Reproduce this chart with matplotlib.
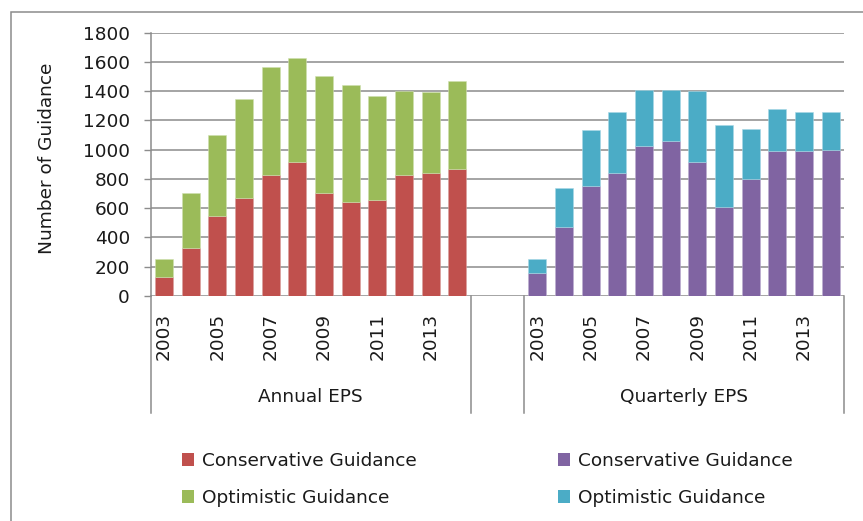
import matplotlib
matplotlib.use("Agg")
import matplotlib.pyplot as plt
import matplotlib.transforms as mtransforms
from matplotlib.patches import Patch, Rectangle
import numpy as np

years = [2003, 2004, 2005, 2006, 2007, 2008, 2009, 2010, 2011, 2012, 2013, 2014]
annual_conservative = [130, 326, 547, 670, 829, 916, 706, 645, 658, 829, 841, 866]
annual_total = [250, 706, 1098, 1344, 1563, 1624, 1503, 1442, 1369, 1403, 1396, 1467]
quarterly_conservative = [155, 473, 755, 839, 1023, 1061, 914, 607, 802, 989, 989, 1000]
quarterly_total = [250, 739, 1132, 1255, 1411, 1411, 1400, 1170, 1143, 1277, 1255, 1255]
groups = ["Annual EPS", "Quarterly EPS"]
series_names = ["Conservative Guidance", "Optimistic Guidance"]
yticks = [0, 200, 400, 600, 800, 1000, 1200, 1400, 1600, 1800]

annual_optimistic = [t - c for t, c in zip(annual_total, annual_conservative)]
quarterly_optimistic = [t - c for t, c in zip(quarterly_total, quarterly_conservative)]

RED, GREEN, PURPLE, CYAN = "#C0504D", "#9BBB59", "#8064A2", "#4BACC6"
GRID = "#8c8c8c"
TXT = "#1a1a1a"
FS = 13.3
plt.rcParams['font.family'] = ['DejaVu Sans']

W, H = 863, 521
fig = plt.figure(figsize=(W / 100, H / 100), dpi=100)
L, R, T, B = 150.7, 844, 32.7, 296
ax = fig.add_axes([L / W, 1 - B / H, (R - L) / W, (B - T) / H])

n = len(years)
xa = np.arange(n)
xq = np.arange(n) + n + 2
bw = 0.675
ax.bar(xa, annual_conservative, bw, color=RED, edgecolor="#d9a09e", linewidth=0.4, zorder=3)
ax.bar(xa, annual_optimistic, bw, bottom=annual_conservative, color=GREEN, edgecolor="#cfe0b0", linewidth=0.4, zorder=3)
ax.bar(xq, quarterly_conservative, bw, color=PURPLE, edgecolor="#bcaed0", linewidth=0.4, zorder=3)
ax.bar(xq, quarterly_optimistic, bw, bottom=quarterly_conservative, color=CYAN, edgecolor="#a8d8e6", linewidth=0.4, zorder=3)

ax.set_xlim(-0.5, 2 * n + 1.5)
ax.set_ylim(0, 1800)
ax.set_yticks(yticks)
ax.set_yticklabels([str(v) for v in yticks], fontsize=FS, color=TXT)
ax.tick_params(axis='y', length=5, width=1, color=GRID, pad=10, direction='out')
ax.yaxis.grid(True, color=GRID, linewidth=1.1, zorder=0)
ax.set_axisbelow(True)
for s in ['top', 'right', 'bottom']:
    ax.spines[s].set_visible(False)
ax.spines['left'].set_color(GRID)
ax.spines['left'].set_linewidth(1.1)

xt = list(xa) + list(xq)
labs = [str(y) if y % 2 == 1 else "" for y in years] * 2
ax.set_xticks(xt)
ax.set_xticklabels(labs, rotation=90, fontsize=FS, color=TXT, va='top', ha='center')
ax.tick_params(axis='x', length=0, pad=12.5)

trans = mtransforms.blended_transform_factory(ax.transData, ax.transAxes)
sep_bottom = -(413 - B) / (B - T)
for xs in [-0.5, n - 0.5, n + 1.5, 2 * n + 1.5]:
    ax.plot([xs, xs], [0, sep_bottom], transform=trans, color=GRID, linewidth=1.1, clip_on=False)
lab_y = -(397 - B) / (B - T)
ax.text((n - 1) / 2, lab_y, groups[0], transform=trans, ha='center', va='center', fontsize=FS, color=TXT)
ax.text(n + 2 + (n - 1) / 2, lab_y, groups[1], transform=trans, ha='center', va='center', fontsize=FS, color=TXT)

fig.text(47 / W, 1 - 158 / H, "Number of Guidance", rotation=90, ha='center', va='center', fontsize=FS, color=TXT)

# outer chart border
fig.add_artist(Rectangle((11 / W, -0.1), 1.2, 1 - 12 / H + 0.1, transform=fig.transFigure,
                         fill=False, edgecolor=GRID, linewidth=1.1))

def add_legend(x0, c1, c2):
    handles = [Patch(facecolor=c1, edgecolor='none'), Patch(facecolor=c2, edgecolor='none')]
    leg = fig.legend(handles, series_names, loc='upper left', bbox_to_anchor=(x0 / W, 1 - 452 / H),
                     frameon=False, fontsize=FS, handlelength=0.65, handleheight=0.65,
                     handletextpad=0.45, labelspacing=1.03, borderpad=0, borderaxespad=0)
    for t in leg.get_texts():
        t.set_color(TXT)

add_legend(182, RED, GREEN)
add_legend(558, PURPLE, CYAN)

fig.savefig("out.png", dpi=100)
